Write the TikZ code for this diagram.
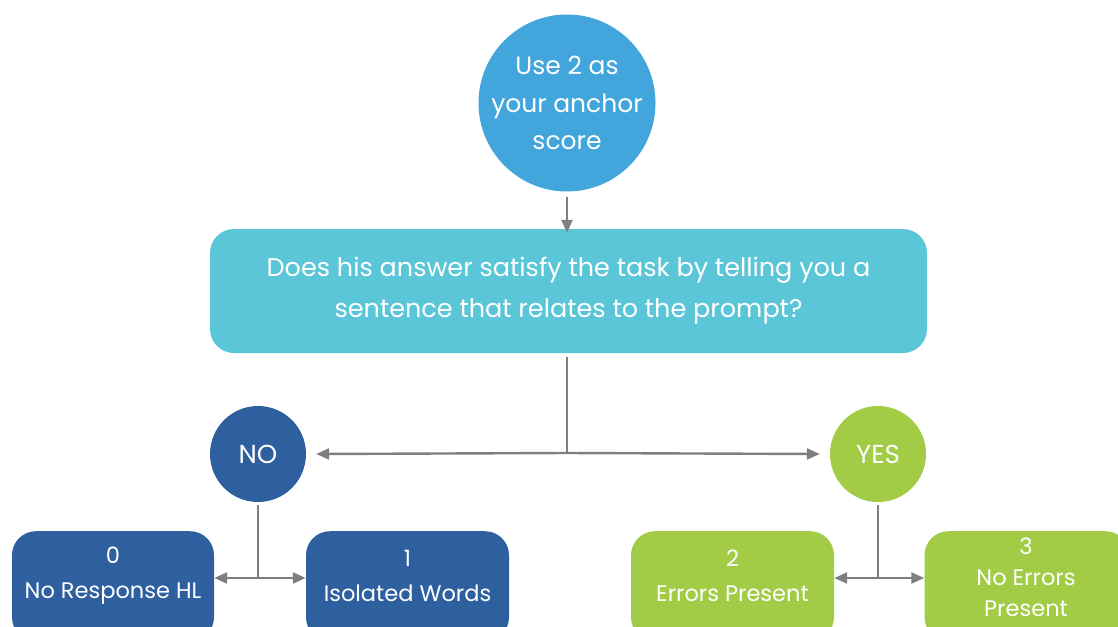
\documentclass[tikz,border=0pt]{standalone}
\usepackage{fontspec}
\setmainfont{Poppins}
\usetikzlibrary{arrows.meta}
\definecolor{topblue}{HTML}{42A6DD}
\definecolor{qcyan}{HTML}{5AC6D8}
\definecolor{noblue}{HTML}{2E5F9F}
\definecolor{yesgreen}{HTML}{A2CC46}
\definecolor{linegray}{HTML}{7F7F7F}
\begin{document}
\begin{tikzpicture}[x=1pt,y=-1pt,
  every node/.style={text=white, inner sep=0pt, align=center},
  circ/.style={circle, minimum size=#1},
  conn/.style={draw=linegray, line width=2.4pt, -{Triangle[length=13pt,width=11pt]}},
  plain/.style={draw=linegray, line width=2.4pt}]
\useasboundingbox (0,0) rectangle (1118,626);
\clip (0,0) rectangle (1118,626);
% top circle
\node[circ=177pt, fill=topblue] (top) at (567,103) {};
\node[font=\fontsize{25}{37.5}\selectfont] (toptext) at (top.center) {Use 2 as\\your anchor\\score};
% question box
\node[fill=qcyan, rounded corners=24pt, minimum width=717pt, minimum height=124pt,
      font=\fontsize{25.5}{41}\selectfont] (q) at (568.5,291) {Does his answer satisfy the task by telling you a\\sentence that relates to the prompt?};
% NO / YES circles
\node[circ=96pt, fill=noblue, font=\fontsize{26}{30}\selectfont] (no) at (258,454) {NO};
\node[circ=96pt, fill=yesgreen, font=\fontsize{26}{30}\selectfont] (yes) at (878,454) {YES};
% bottom boxes (extend past the bottom edge)
\node[fill=noblue, rounded corners=24pt, minimum width=202pt, minimum height=110pt, anchor=north] (b0) at (113,531) {};
\node[fill=noblue, rounded corners=24pt, minimum width=203pt, minimum height=110pt, anchor=north] (b1) at (407.5,531) {};
\node[fill=yesgreen, rounded corners=24pt, minimum width=203pt, minimum height=110pt, anchor=north] (b2) at (732.5,531) {};
\node[fill=yesgreen, rounded corners=24pt, minimum width=205pt, minimum height=110pt, anchor=north] (b3) at (1027,531) {};
\node[font=\fontsize{22.5}{35}\selectfont] (t0) at (113,576) {0\\No Response HL};
\node[font=\fontsize{22.5}{35}\selectfont] (t1) at (407.5,576) {1\\Isolated Words};
\node[font=\fontsize{22.5}{35}\selectfont] (t2) at (732.5,576) {2\\Errors Present};
\node[font=\fontsize{22.5}{31}\selectfont] (t3) at (1026,577) {3\\No Errors\\Present};
% connectors
\coordinate (qs) at (567,357);
\coordinate (j) at (567,453);
\draw[conn] (top.south) ++(0,5) -- ([yshift=-4pt]q.north -| top.south);
\draw[plain] (qs) -- (j);
\draw[conn] (j) -- ([xshift=10pt]no.east);
\draw[conn] (j) -- ([xshift=-10pt]yes.west);
\coordinate (ns) at (258,505);
\coordinate (nj) at (258,578);
\draw[plain] (ns) -- (nj);
\draw[conn] (nj) -- (b0.east |- nj);
\draw[conn] (nj) -- (b1.west |- nj);
\coordinate (ys) at (878,505);
\coordinate (yj) at (878,578);
\draw[plain] (ys) -- (yj);
\draw[conn] (yj) -- (b2.east |- yj);
\draw[conn] (yj) -- (b3.west |- yj);
\end{tikzpicture}
\end{document}
